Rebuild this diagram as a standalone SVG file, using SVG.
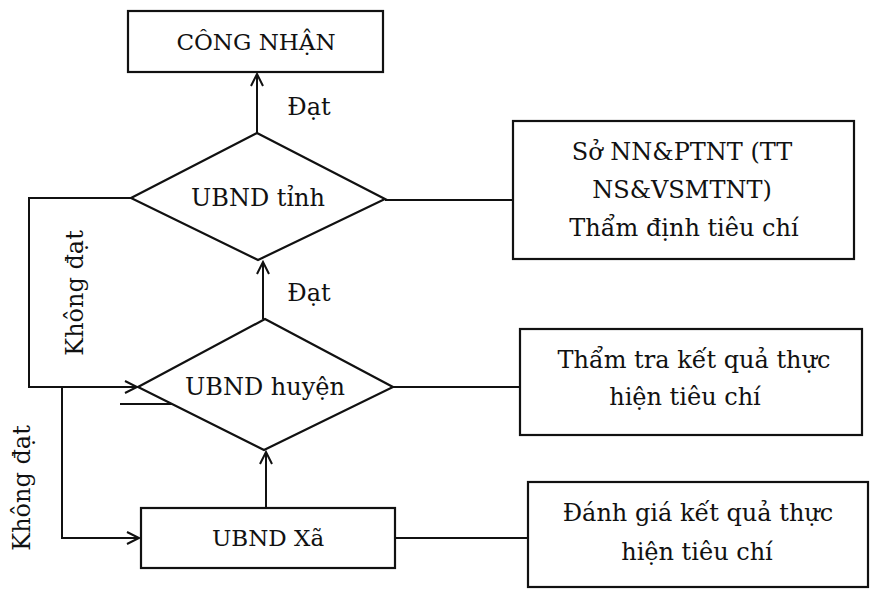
<svg xmlns="http://www.w3.org/2000/svg" width="875" height="598" viewBox="0 0 875 598">
<defs>
<style>
.box{fill:#fff;stroke:#111;stroke-width:2.2}
.ln{fill:none;stroke:#111;stroke-width:2}
.t{font-family:"DejaVu Serif","Liberation Serif",serif;font-size:24px;fill:#111;text-anchor:middle;dominant-baseline:central}
.s23{font-size:23px}
.lbl{font-family:"DejaVu Serif","Liberation Serif",serif;font-size:24px;fill:#111;text-anchor:middle;dominant-baseline:central}
</style>
<marker id="arr" markerWidth="16" markerHeight="16" refX="13" refY="7" orient="auto" markerUnits="userSpaceOnUse">
<path d="M1,1 L13,7 L1,13" fill="none" stroke="#111" stroke-width="2"/>
</marker>
</defs>
<rect width="875" height="598" fill="#fff"/>
<g id="connectors">
<line class="ln" x1="257" y1="133" x2="257" y2="74" marker-end="url(#arr)"/>
<line class="ln" x1="263" y1="319" x2="263" y2="262" marker-end="url(#arr)"/>
<line class="ln" x1="266" y1="508" x2="266" y2="452" marker-end="url(#arr)"/>
<line class="ln" x1="385" y1="200" x2="513" y2="200"/>
<line class="ln" x1="393" y1="387" x2="520" y2="387"/>
<line class="ln" x1="395" y1="538" x2="528" y2="538"/>
<polyline class="ln" points="131,198 29,198 29,387 137,387" marker-end="url(#arr)"/>
<polyline class="ln" points="62,387 62,538 139,538" marker-end="url(#arr)"/>
<line class="ln" x1="120" y1="404" x2="195" y2="404" stroke-width="1.5"/>
<text class="lbl" x="309" y="107">Đạt</text>
<text class="lbl" x="309" y="293">Đạt</text>
<text class="lbl" transform="translate(75,293) rotate(-90)">Không đạt</text>
<text class="lbl" transform="translate(22,488) rotate(-90)">Không đạt</text>
</g>
<g id="congnhan">
<rect class="box" x="128" y="11" width="255" height="61"/>
<text class="t s23" x="256" y="42">CÔNG NHẬN</text>
</g>
<g id="ubnd-tinh">
<polygon class="box" points="257,133 385,199 258,260 131,198"/>
<text class="t" x="258" y="198">UBND tỉnh</text>
</g>
<g id="so-nn">
<rect class="box" x="513" y="121" width="341" height="138"/>
<text class="t" x="682" y="152">Sở NN&amp;PTNT (TT</text>
<text class="t" x="682" y="190">NS&amp;VSMTNT)</text>
<text class="t" x="684" y="228">Thẩm định tiêu chí</text>
</g>
<g id="ubnd-huyen">
<polygon class="box" points="265,319 393,387 264,450 138,387"/>
<text class="t" x="265" y="387">UBND huyện</text>
</g>
<g id="tham-tra">
<rect class="box" x="520" y="329" width="342" height="106"/>
<text class="t" x="694" y="360">Thẩm tra kết quả thực</text>
<text class="t" x="685" y="397">hiện tiêu chí</text>
</g>
<g id="ubnd-xa">
<rect class="box" x="141" y="508" width="254" height="60"/>
<text class="t s23" x="268" y="538">UBND Xã</text>
</g>
<g id="danh-gia">
<rect class="box" x="528" y="482" width="340" height="105"/>
<text class="t" x="698" y="513">Đánh giá kết quả thực</text>
<text class="t" x="697" y="552">hiện tiêu chí</text>
</g>
</svg>
